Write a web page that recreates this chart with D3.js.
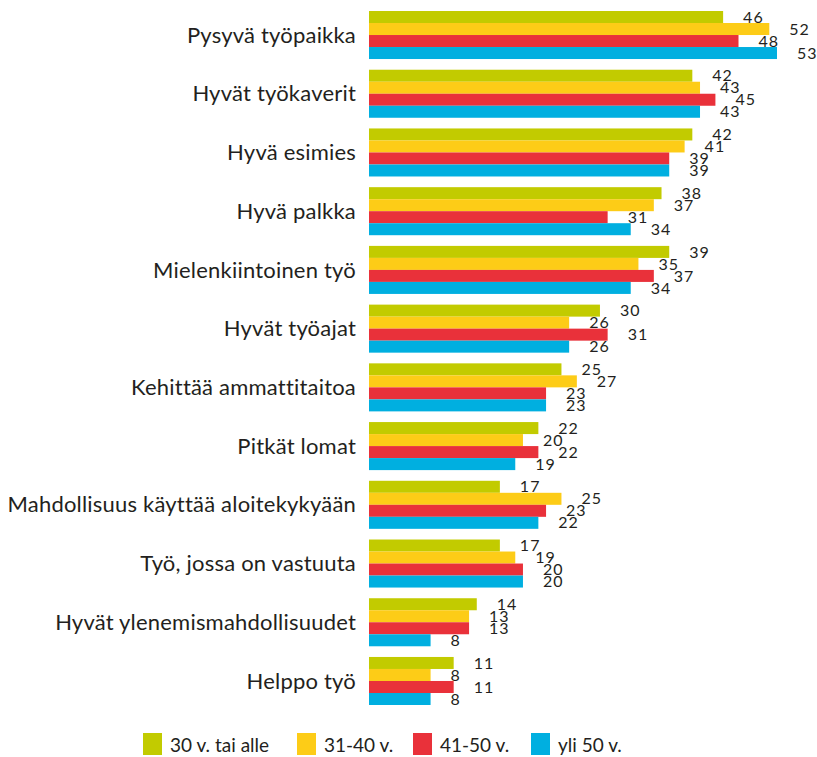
<!DOCTYPE html>
<html>
<head>
<meta charset="utf-8">
<script src="https://cdn.jsdelivr.net/npm/d3@7"></script>
<style>
  body { margin: 0; background: #fff; }
  text { font-family: Lato, "Open Sans", sans-serif; fill: #231f20; }
</style>
</head>
<body>
<svg width="817" height="757"></svg>
<script>
const categories = [
  "Pysyvä työpaikka",
  "Hyvät työkaverit",
  "Hyvä esimies",
  "Hyvä palkka",
  "Mielenkiintoinen työ",
  "Hyvät työajat",
  "Kehittää ammattitaitoa",
  "Pitkät lomat",
  "Mahdollisuus käyttää aloitekykyään",
  "Työ, jossa on vastuuta",
  "Hyvät ylenemismahdollisuudet",
  "Helppo työ"
];

const seriesNames = ["30 v. tai alle", "31-40 v.", "41-50 v.", "yli 50 v."];
const colors = ["#c2cb00", "#fdcc17", "#e9313a", "#00afe0"];

const under30 = [46, 42, 42, 38, 39, 30, 25, 22, 17, 17, 14, 11];
const age31to40 = [52, 43, 41, 37, 35, 26, 27, 20, 25, 19, 13, 8];
const age41to50 = [48, 45, 39, 31, 37, 31, 23, 22, 23, 20, 13, 11];
const over50 = [53, 43, 39, 34, 34, 26, 23, 19, 22, 20, 8, 8];

const series = [under30, age31to40, age41to50, over50];

const svg = d3.select("svg");

const x = d3.scaleLinear().domain([0, 53]).range([369, 777]);

const y = d3.scaleBand()
  .domain(categories)
  .range([11, 705])
  .paddingInner(0.182);

const ySub = d3.scaleBand()
  .domain(d3.range(series.length))
  .range([0, y.bandwidth()]);

const groups = svg.selectAll(".group")
  .data(categories)
  .enter()
  .append("g")
  .attr("class", "group")
  .attr("transform", d => `translate(0,${y(d)})`);

groups.append("text")
  .attr("x", 356)
  .attr("y", y.bandwidth() / 2)
  .attr("dy", "0.35em")
  .attr("text-anchor", "end")
  .style("font-size", "22px")
  .style("letter-spacing", "0.2px")
  .text(d => d);

series.forEach((values, s) => {
  groups.append("rect")
    .attr("x", x(0))
    .attr("y", ySub(s))
    .attr("width", (d, i) => x(values[i]) - x(0))
    .attr("height", ySub.bandwidth())
    .attr("fill", colors[s]);

  groups.append("text")
    .attr("x", (d, i) => x(values[i]) + 20)
    .attr("y", ySub(s) + ySub.bandwidth() / 2)
    .attr("dy", "0.35em")
    .style("font-size", "16px")
    .style("letter-spacing", "1px")
    .text((d, i) => values[i]);
});

// legend
const legendX = [143, 297, 413, 531];
const legend = svg.selectAll(".legend")
  .data(seriesNames)
  .enter()
  .append("g")
  .attr("class", "legend")
  .attr("transform", (d, i) => `translate(${legendX[i]},733)`);

legend.append("rect")
  .attr("width", 19)
  .attr("height", 22)
  .attr("fill", (d, i) => colors[i]);

legend.append("text")
  .attr("x", 27)
  .attr("y", 12)
  .attr("dy", "0.35em")
  .style("font-size", "19px")
  .text(d => d);
</script>
</body>
</html>
